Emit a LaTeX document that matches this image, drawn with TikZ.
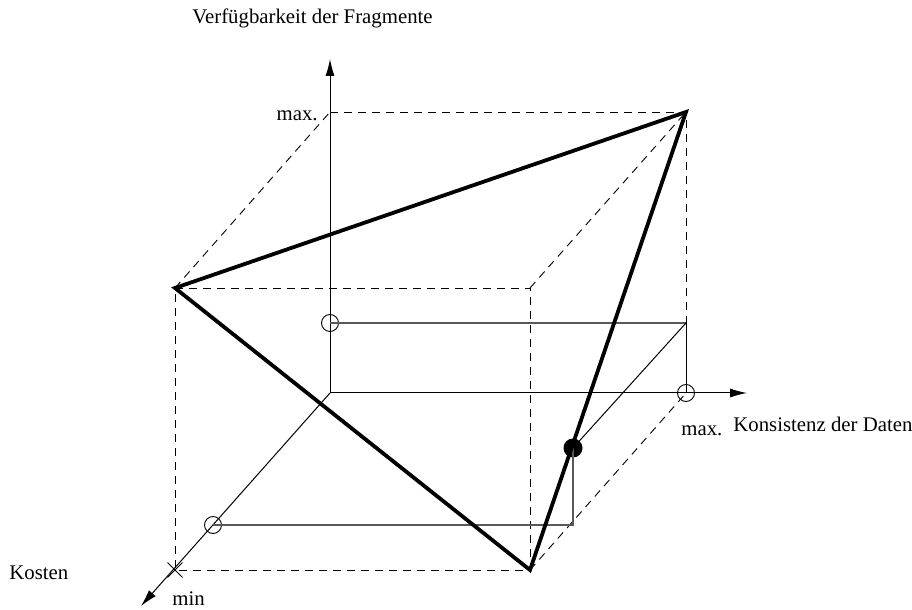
\documentclass[tikz,border=0pt]{standalone}
\usepackage{fontspec}
\setmainfont{Liberation Serif}
\usetikzlibrary{arrows.meta, shapes.misc, positioning}

\begin{document}
\begin{tikzpicture}[
        x=0.5pt, y=-0.5pt,
        achse/.style={-{Latex[length=8.5pt, width=4.5pt]}, line width=0.5pt},
        kante/.style={dash pattern=on 4pt off 3pt, line width=0.45pt},
        hilfslinie/.style={gray!70!black, line width=0.55pt},
        dreieck/.style={line width=1.9pt, line join=miter},
        marke/.style={circle, draw, inner sep=0pt, minimum size=8.5pt, line width=0.45pt},
        punkt/.style={circle, fill, inner sep=0pt, minimum size=9.5pt},
        kreuz/.style={cross out, draw, inner sep=0pt, minimum size=7pt, line width=0.45pt},
        beschriftung/.style={font=\fontsize{10.4}{12}\selectfont, inner sep=0pt}
    ]
    \useasboundingbox (0,0) rectangle (912,610);

    % Ecken des Wuerfels
    \coordinate (O) at (330,393);
    \coordinate (ymax) at (330,112);
    \coordinate (hinten) at (686,112);
    \coordinate (xmax) at (686,393);
    \coordinate (links) at (175,288);
    \coordinate (vorneoben) at (530,288);
    \coordinate (unten) at (530,570);
    \coordinate (zmin) at (175,570);

    % Achsenenden
    \coordinate (yende) at (330,59);
    \coordinate (xende) at (747,393);
    \coordinate (zende) at (141,606);

    % Hilfspunkte
    \coordinate (ecke) at (686,323);
    \coordinate (fuss) at (573,525);

    % Wuerfelkanten
    \draw[kante] (links) -- (vorneoben) -- (unten) -- (zmin) -- cycle;
    \draw[kante] (ymax) -- (hinten) -- (ecke);
    \draw[kante] (links) -- (ymax);
    \draw[kante] (vorneoben) -- (hinten);
    \draw[kante] (unten) -- (xmax);

    % Achsen
    \draw[achse] (O) -- (yende);
    \draw[achse] (O) -- (xende);
    \draw[achse] (O) -- (zende);

    % Marken
    \node[marke] (my) at (330,323) {};
    \node[marke] (mx) at (xmax) {};
    \node[marke] (mz) at (213,525) {};
    \node[punkt] (p) at (573,448) {};
    \node[kreuz] (kr) at (zmin) {};

    % Projektionen
    \draw[hilfslinie] (my.center) -- (ecke);
    \draw[line width=0.45pt] (ecke) -- (mx.center);
    \draw[line width=0.5pt] (ecke) -- (p.center);
    \draw[hilfslinie] (p.center) -- (fuss) -- (mz.center);

    % Dreieck
    \draw[dreieck] (hinten) -- (links) -- (unten) -- cycle;

    % Beschriftungen
    \node[beschriftung, anchor=base west] (ytext) at (192,24) {Verfügbarkeit der Fragmente};
    \node[beschriftung, anchor=base east] (ymaxtext) at (318,121) {max.};
    \node[beschriftung, anchor=base west] (xmaxtext) at (681,436) {max.};
    \node[beschriftung, anchor=base west] (xtext) at (733,431) {Konsistenz der Daten};
    \node[beschriftung, anchor=base west] (ztext) at (9,579) {Kosten};
    \node[beschriftung, anchor=base west] (zmintext) at (172,605) {min};
\end{tikzpicture}
\end{document}
